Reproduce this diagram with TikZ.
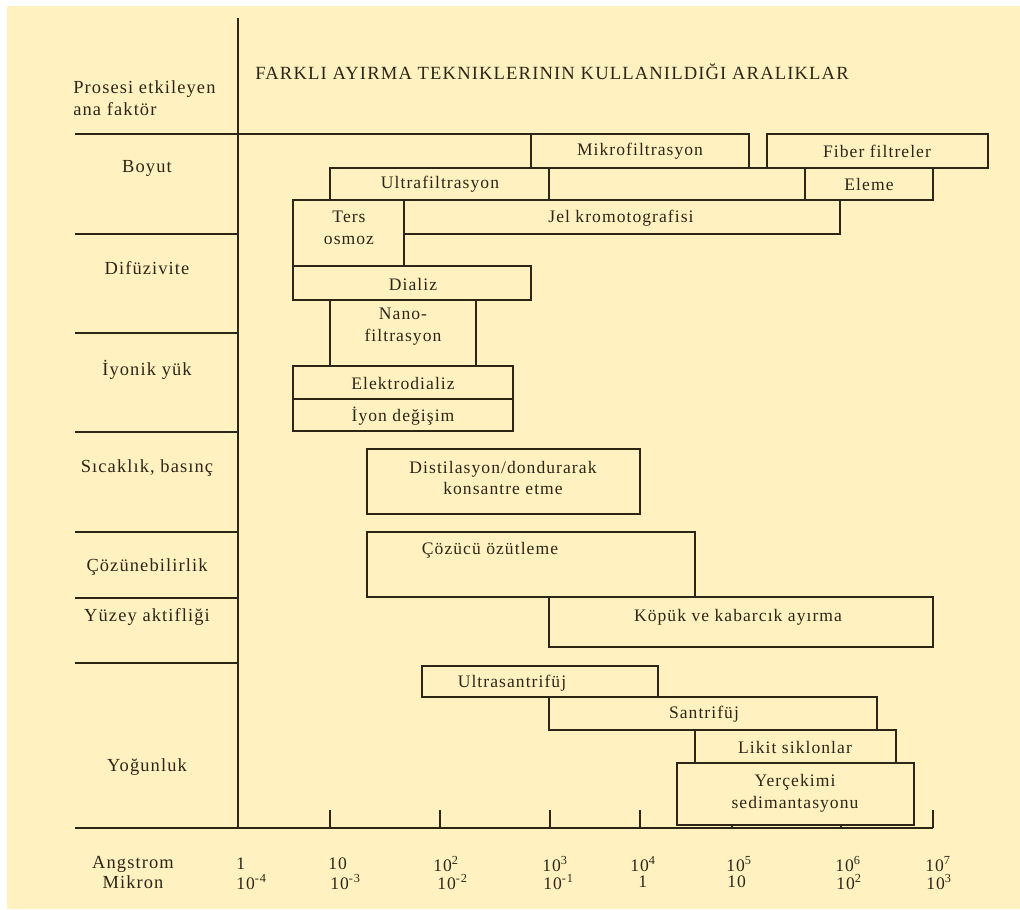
\documentclass[tikz,border=0pt]{standalone}
\usepackage{fontspec}
\setmainfont[LetterSpace=6]{Liberation Serif}
\usepackage{tikz}

\definecolor{cream}{RGB}{255,242,192}
\definecolor{ink}{RGB}{45,38,22}

\tikzset{
  rule/.style={draw=ink, line width=1pt},
  box/.style={draw=ink, fill=cream, line width=1pt},
  lbl/.style={text=ink, inner sep=0pt, align=center, font=\fontsize{10}{12.5}\selectfont},
  factor/.style={lbl, font=\fontsize{10.5}{12.5}\selectfont},
}

\begin{document}
\begin{tikzpicture}[x=0.02cm, y=-0.02cm]
  \useasboundingbox (0,0) rectangle (1020,909);
  \fill[cream] (7,6) rectangle (1020,909);

  % headings
  \node[lbl, anchor=west, font=\fontsize{10.6}{12}\selectfont] (title) at (255,72) {FARKLI AYIRMA TEKNIKLERININ KULLANILDIĞI ARALIKLAR};
  \node[factor, align=left, anchor=west] (head) at (73,98) {Prosesi etkileyen\\ana faktör};

  % frame
  \coordinate (top) at (238,18);
  \coordinate (origin) at (238,828);
  \draw[rule] (top) -- (origin);
  \draw[rule] (75,134) -- (531,134);
  \foreach \y in {234,333,432,532,598,663}
    \draw[rule] (75,\y) -- (238,\y);
  \draw[rule] (75,828) -- (933,828);
  \foreach \x in {330,440,550,640,732,841,933}
    \draw[rule] (\x,828) -- (\x,810);

  % factors
  \foreach \y/\t [count=\i] in {168/Boyut, 268/Difüzivite, 370/İyonik yük, 468/{Sıcaklık, basınç},
      567/Çözünebilirlik, 617/Yüzey aktifliği, 767/Yoğunluk}
    \node[factor] (f\i) at (147,\y) {\t};

  % scale
  \node[factor] (ang) at (133,864) {Angstrom};
  \node[factor] (mik) at (133,882) {Mikron};
  \foreach \x/\t [count=\i] in {236/1, 328/10, 433/10\textsuperscript{2}, 542/10\textsuperscript{3},
      630/10\textsuperscript{4}, 726/10\textsuperscript{5}, 835/10\textsuperscript{6}, 925/10\textsuperscript{7}}
    \node[lbl, anchor=west] (a\i) at (\x,864) {\t};
  \foreach \x/\t [count=\i] in {236/10\textsuperscript{-4}, 330/10\textsuperscript{-3}, 437/10\textsuperscript{-2},
      543/10\textsuperscript{-1}, 638/1, 727/10, 836/10\textsuperscript{2}, 926/10\textsuperscript{3}}
    \node[lbl, anchor=west] (m\i) at (\x,882) {\t};

  % Boyut
  \draw[box] (531,134) rectangle (749,168);
  \node[lbl] (mikro) at (640,151) {Mikrofiltrasyon};
  \draw[box] (767,134) rectangle (988,168);
  \node[lbl] (fiber) at (877,151) {Fiber filtreler};
  \draw[box] (330,168) rectangle (549,200);
  \node[lbl] (ultra) at (440,184) {Ultrafiltrasyon};
  \draw[box] (549,168) rectangle (805,200);
  \draw[box] (805,168) rectangle (933,200);
  \node[lbl] (eleme) at (869,184) {Eleme};
  \draw[box] (404,200) rectangle (840,234);
  \node[lbl] (jel) at (621,218) {Jel kromotografisi};
  \draw[box] (293,200) rectangle (404,266);
  \node[lbl] (ters) at (349,228) {Ters\\osmoz};

  % Difuzivite
  \draw[box] (293,266) rectangle (531,300);
  \node[lbl] (dializ) at (413,284) {Dializ};
  \draw[box] (330,300) rectangle (476,366);
  \node[lbl] (nano) at (403,327) {Nano-\\filtrasyon};

  % Iyonik yuk
  \draw[box] (293,366) rectangle (513,399);
  \node[lbl] (elektro) at (403,383) {Elektrodializ};
  \draw[box] (293,399) rectangle (513,431);
  \node[lbl] (iyon) at (403,416) {İyon değişim};

  % Sicaklik, Cozunebilirlik, Yuzey
  \draw[box] (367,449) rectangle (640,514);
  \node[lbl] (distil) at (503,478) {Distilasyon/dondurarak\\konsantre etme};
  \draw[box] (367,532) rectangle (695,597);
  \node[lbl] (cozucu) at (490,550) {Çözücü özütleme};
  \draw[box] (549,597) rectangle (933,647);
  \node[lbl] (kopuk) at (738,617) {Köpük ve kabarcık ayırma};

  % Yogunluk
  \draw[box] (422,666) rectangle (658,697);
  \node[lbl] (usan) at (512,683) {Ultrasantrifüj};
  \draw[box] (549,697) rectangle (877,730);
  \node[lbl] (santri) at (704,714) {Santrifüj};
  \draw[box] (695,730) rectangle (896,763);
  \node[lbl] (likit) at (795,747) {Likit siklonlar};
  \draw[box] (677,763) rectangle (914,825);
  \node[lbl] (yercek) at (795,793) {Yerçekimi\\sedimantasyonu};
\end{tikzpicture}
\end{document}
